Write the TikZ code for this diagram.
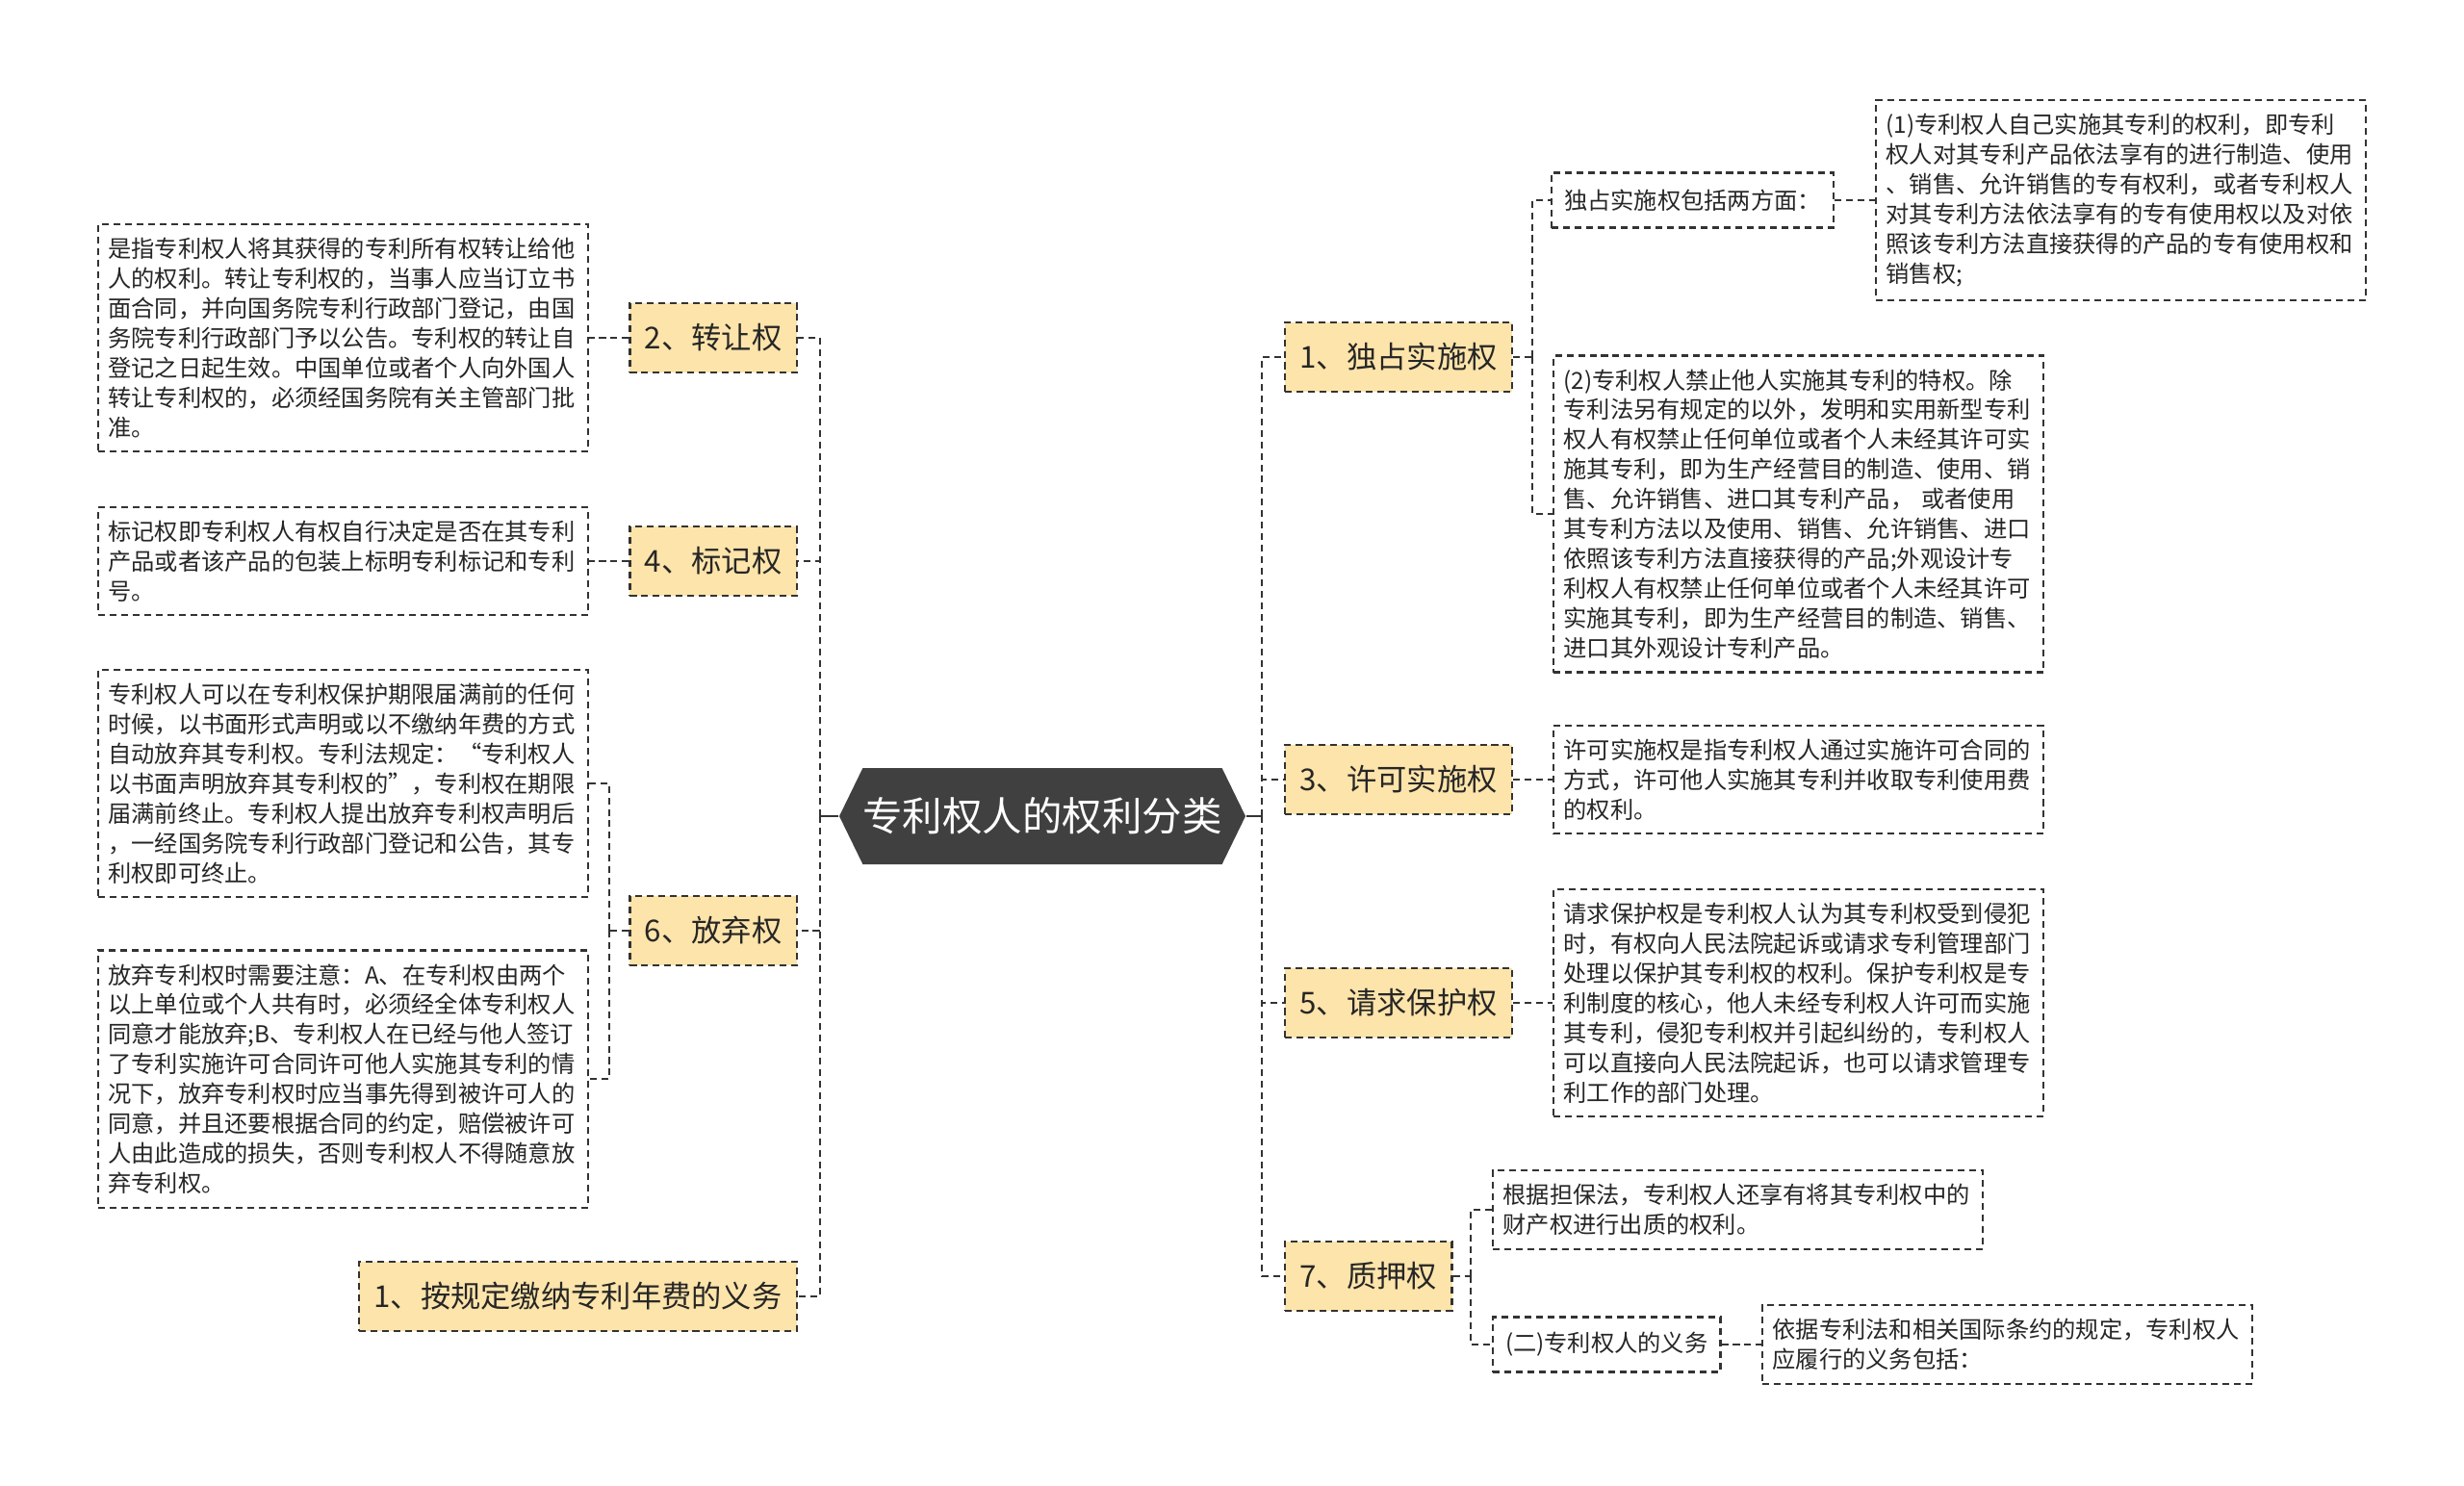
\documentclass[tikz,border=0pt]{standalone}
\usepackage{fontspec}
\setmainfont{Noto Sans CJK SC}
\usepackage{tikz}
\usetikzlibrary{positioning,shapes.symbols}

\definecolor{rootfill}{HTML}{404040}
\definecolor{topicfill}{HTML}{FDE4AA}
\definecolor{edgegray}{HTML}{333333}

\begin{document}
\begin{tikzpicture}[
    font=\fontsize{6.9}{8.8}\selectfont,
    root/.style={shape=signal, signal to=west and east, signal pointer angle=128, fill=rootfill, text=white, font=\fontsize{11.8}{14}\selectfont, minimum height=1.0cm, inner xsep=0pt},
    topic/.style={draw=edgegray, dash pattern=on 2pt off 1.4pt, line width=0.6pt, fill=topicfill, text=black!85, font=\fontsize{8.9}{10.5}\selectfont, inner xsep=0.155cm, minimum height=0.72cm},
    note/.style={draw=edgegray, dash pattern=on 2pt off 1.4pt, line width=0.6pt, fill=white, text=black!85, align=left, text width=4.88cm, inner xsep=0.105cm, inner ysep=0.14cm},
    tag/.style={draw=edgegray, dash pattern=on 2pt off 1.4pt, line width=0.6pt, fill=white, text=black!85, inner xsep=0.13cm, minimum height=0.57cm},
    link/.style={draw=edgegray, line width=0.6pt, dash pattern=on 2pt off 1.4pt},
    stem/.style={draw=edgegray, line width=0.8pt},
]
\useasboundingbox (0,0) rectangle (25.6,-15.43);

\node[root] (root) at (10.83,-8.48) {专利权人的权利分类};

% left side
\node[topic, anchor=east] (zhuanrang) at (8.29,-3.51) {2、转让权};
\node[note, anchor=east] (zhuanrangtxt) at (6.12,-3.51) {是指专利权人将其获得的专利所有权转让给他\\人的权利。转让专利权的，当事人应当订立书\\面合同，并向国务院专利行政部门登记，由国\\务院专利行政部门予以公告。专利权的转让自\\登记之日起生效。中国单位或者个人向外国人\\转让专利权的，必须经国务院有关主管部门批\\准。};
\node[topic, anchor=east] (biaoji) at (8.29,-5.83) {4、标记权};
\node[note, anchor=east] (biaojitxt) at (6.12,-5.83) {标记权即专利权人有权自行决定是否在其专利\\产品或者该产品的包装上标明专利标记和专利\\号。};
\node[topic, anchor=east] (fangqi) at (8.29,-9.67) {6、放弃权};
\node[note, anchor=east] (fangqia) at (6.12,-8.14) {专利权人可以在专利权保护期限届满前的任何\\时候，以书面形式声明或以不缴纳年费的方式\\自动放弃其专利权。专利法规定：“专利权人\\以书面声明放弃其专利权的”，专利权在期限\\届满前终止。专利权人提出放弃专利权声明后\\，一经国务院专利行政部门登记和公告，其专\\利权即可终止。};
\node[note, anchor=east] (fangqib) at (6.12,-11.21) {放弃专利权时需要注意：A、在专利权由两个\\以上单位或个人共有时，必须经全体专利权人\\同意才能放弃;B、专利权人在已经与他人签订\\了专利实施许可合同许可他人实施其专利的情\\况下，放弃专利权时应当事先得到被许可人的\\同意，并且还要根据合同的约定，赔偿被许可\\人由此造成的损失，否则专利权人不得随意放\\弃专利权。};
\node[topic, anchor=east] (nianfei) at (8.29,-13.47) {1、按规定缴纳专利年费的义务};

% right side
\node[topic, anchor=west] (duzhan) at (13.34,-3.71) {1、独占实施权};
\node[tag, anchor=west] (duzhantag) at (16.11,-2.08) {独占实施权包括两方面：};
\node[note, anchor=west] (duzhana) at (19.48,-2.08) {(1)专利权人自己实施其专利的权利，即专利\\权人对其专利产品依法享有的进行制造、使用\\、销售、允许销售的专有权利，或者专利权人\\对其专利方法依法享有的专有使用权以及对依\\照该专利方法直接获得的产品的专有使用权和\\销售权;};
\node[note, anchor=west] (duzhanb) at (16.13,-5.34) {(2)专利权人禁止他人实施其专利的特权。除\\专利法另有规定的以外，发明和实用新型专利\\权人有权禁止任何单位或者个人未经其许可实\\施其专利，即为生产经营目的制造、使用、销\\售、允许销售、进口其专利产品， 或者使用\\其专利方法以及使用、销售、允许销售、进口\\依照该专利方法直接获得的产品;外观设计专\\利权人有权禁止任何单位或者个人未经其许可\\实施其专利，即为生产经营目的制造、销售、\\进口其外观设计专利产品。};
\node[topic, anchor=west] (xuke) at (13.34,-8.10) {3、许可实施权};
\node[note, anchor=west] (xuketxt) at (16.13,-8.10) {许可实施权是指专利权人通过实施许可合同的\\方式，许可他人实施其专利并收取专利使用费\\的权利。};
\node[topic, anchor=west] (baohu) at (13.34,-10.42) {5、请求保护权};
\node[note, anchor=west] (baohutxt) at (16.13,-10.42) {请求保护权是专利权人认为其专利权受到侵犯\\时，有权向人民法院起诉或请求专利管理部门\\处理以保护其专利权的权利。保护专利权是专\\利制度的核心，他人未经专利权人许可而实施\\其专利，侵犯专利权并引起纠纷的，专利权人\\可以直接向人民法院起诉，也可以请求管理专\\利工作的部门处理。};
\node[topic, anchor=west] (zhiya) at (13.34,-13.26) {7、质押权};
\node[note, anchor=west] (zhiyatxt) at (15.50,-12.57) {根据担保法，专利权人还享有将其专利权中的\\财产权进行出质的权利。};
\node[tag, anchor=west] (yiwu) at (15.50,-13.97) {(二)专利权人的义务};
\node[note, anchor=west] (yiwutxt) at (18.30,-13.97) {依据专利法和相关国际条约的规定，专利权人\\应履行的义务包括：};

% junctions
\coordinate (lspine) at (8.52,-8.48);
\coordinate (rspine) at (13.11,-8.48);
\coordinate (fangqij) at (6.33,-9.67);
\coordinate (duzhanj) at (15.92,-3.71);
\coordinate (zhiyaj) at (15.28,-13.26);

\draw[stem] (root.west) -- (lspine);
\draw[stem] (root.east) -- (rspine);

\draw[link] (lspine) |- (zhuanrang.east);
\draw[link] (lspine) |- (biaoji.east);
\draw[link] (lspine) |- (fangqi.east);
\draw[link] (lspine) |- (nianfei.east);
\draw[link] (zhuanrang) -- (zhuanrangtxt);
\draw[link] (biaoji) -- (biaojitxt);
\draw[link] (fangqi.west) -- (fangqij);
\draw[link] (fangqij) |- (fangqia.east);
\draw[link] (fangqij) |- (fangqib.east);

\draw[link] (rspine) |- (duzhan.west);
\draw[link] (rspine) |- (xuke.west);
\draw[link] (rspine) |- (baohu.west);
\draw[link] (rspine) |- (zhiya.west);
\draw[link] (duzhan.east) -- (duzhanj);
\draw[link] (duzhanj) |- (duzhantag.west);
\draw[link] (duzhanj) |- (duzhanb.west);
\draw[link] (duzhantag) -- (duzhana);
\draw[link] (xuke) -- (xuketxt);
\draw[link] (baohu) -- (baohutxt);
\draw[link] (zhiya.east) -- (zhiyaj);
\draw[link] (zhiyaj) |- (zhiyatxt.west);
\draw[link] (zhiyaj) |- (yiwu.west);
\draw[link] (yiwu) -- (yiwutxt);
\end{tikzpicture}
\end{document}
